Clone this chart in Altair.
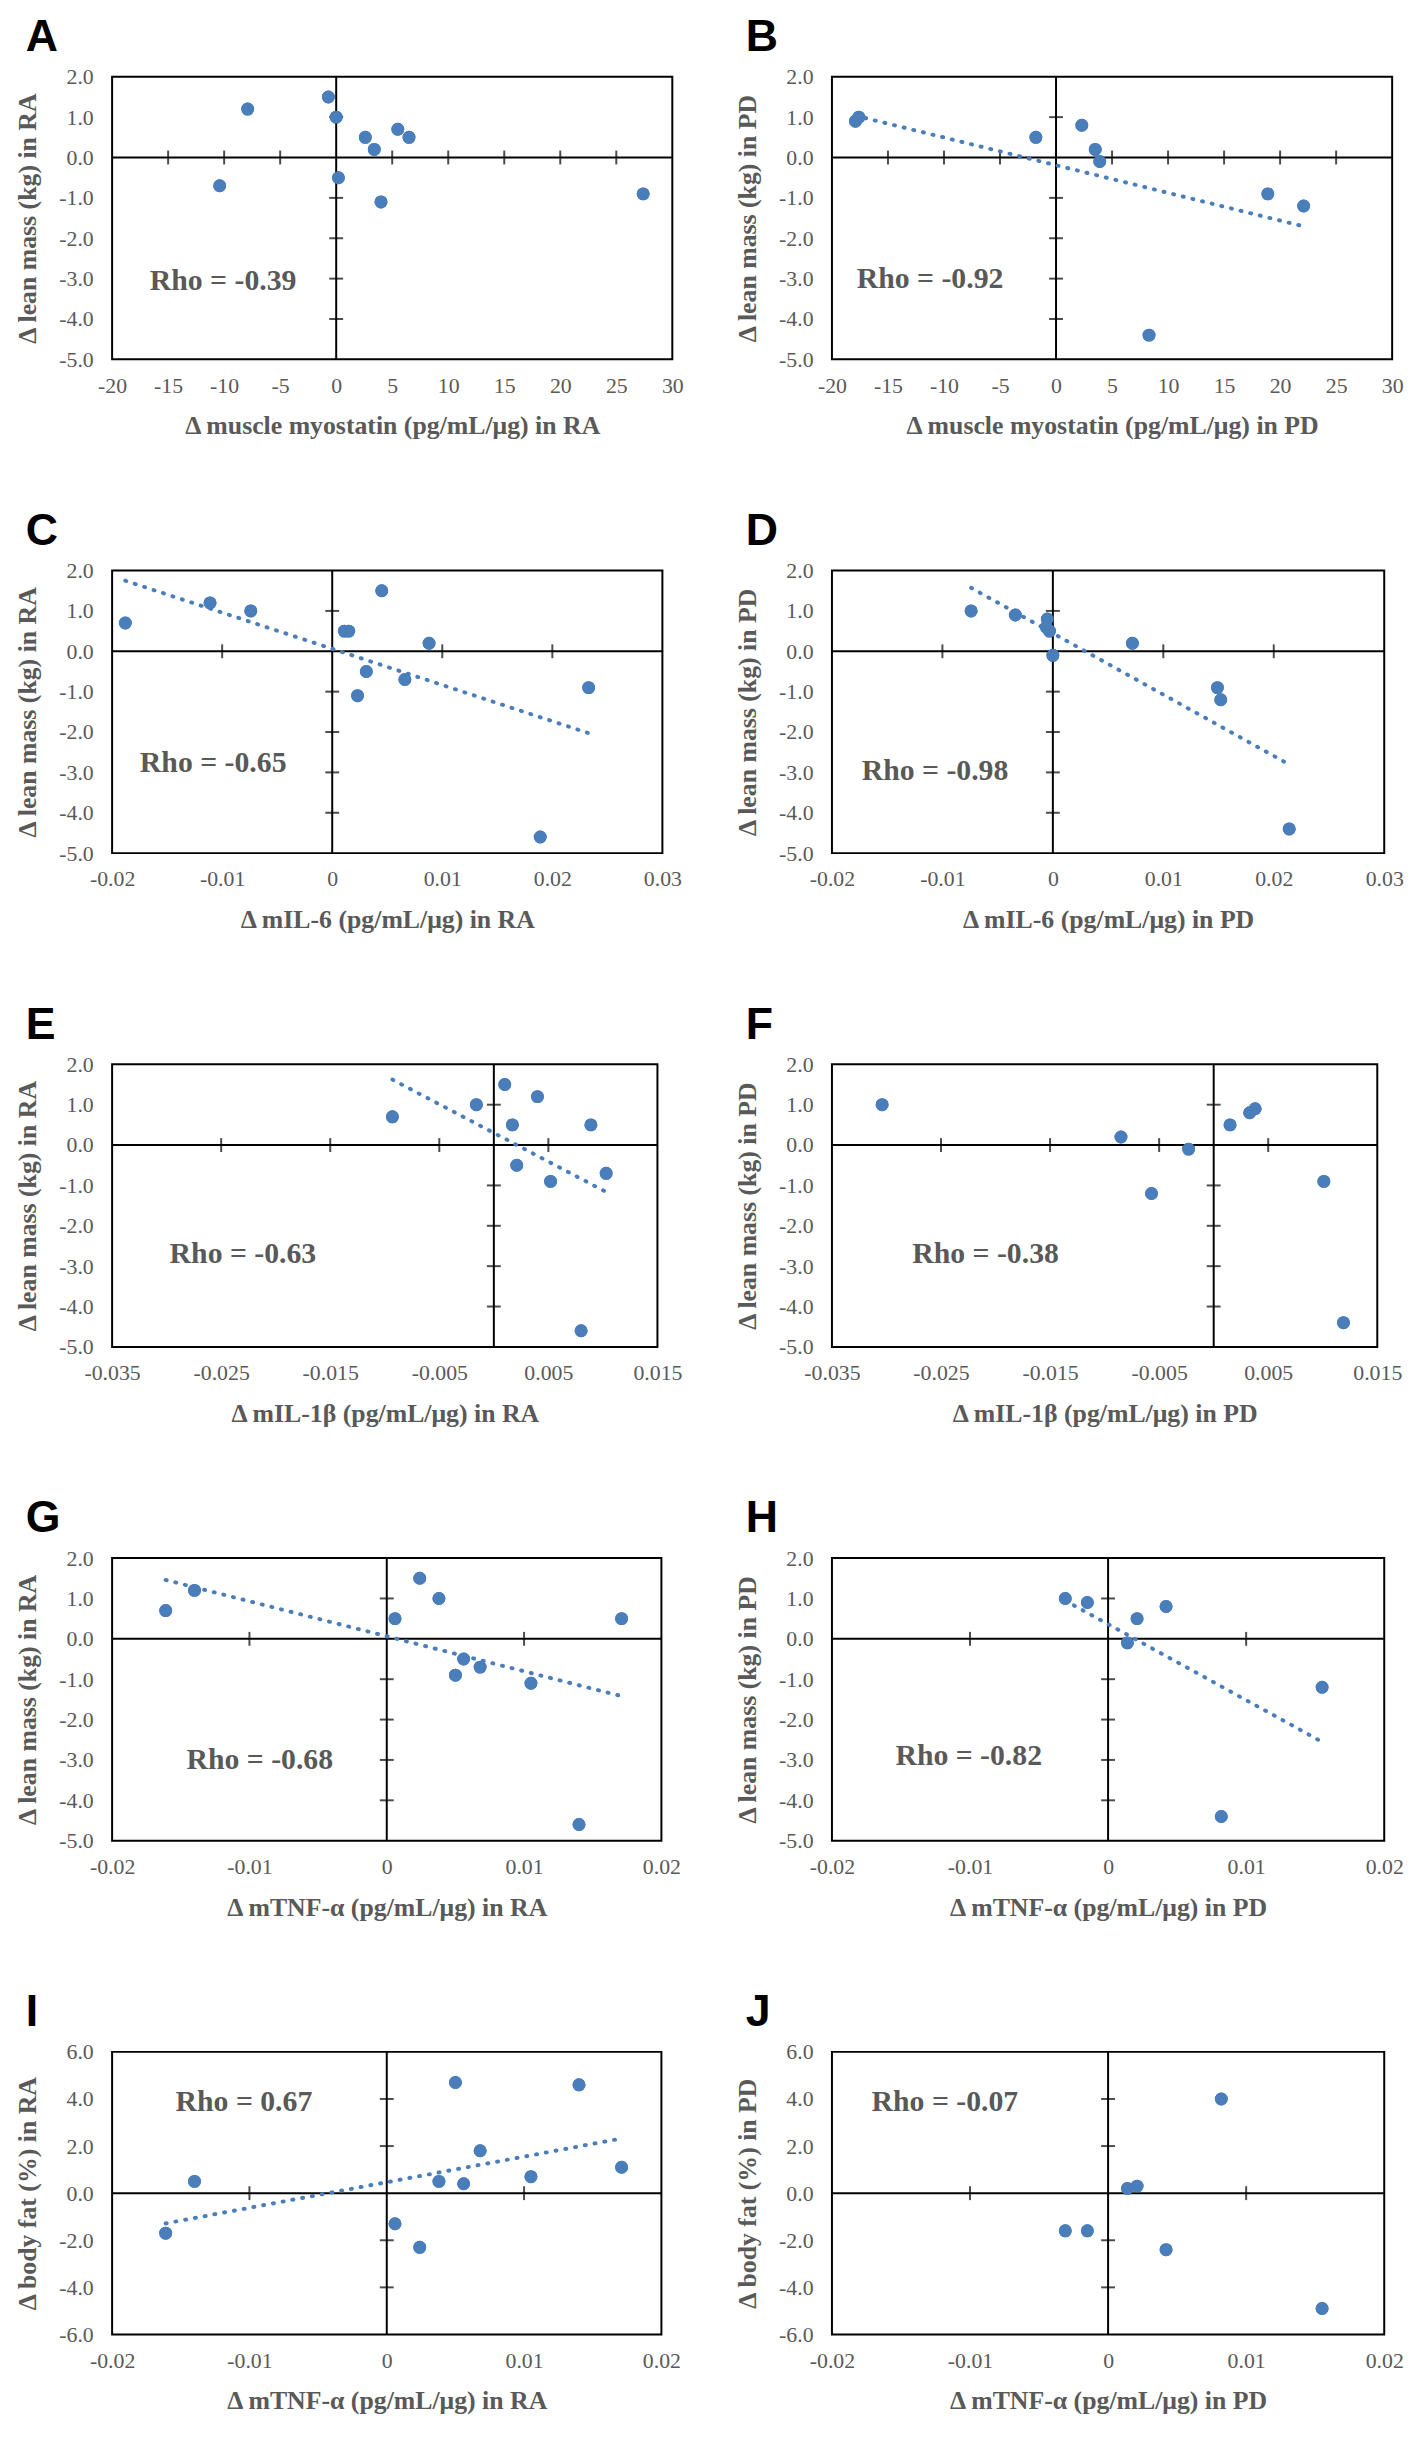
import altair as alt
import pandas as pd

BLUE = "#4a7ebb"
GRAY = "#595959"
SERIF = "Liberation Serif"

# ---------------- data ----------------
ticks_myostatin = [-20, -15, -10, -5, 0, 5, 10, 15, 20, 25, 30]
ticks_il6 = [-0.02, -0.01, 0, 0.01, 0.02, 0.03]
ticks_il1b = [-0.035, -0.025, -0.015, -0.005, 0.005, 0.015]
ticks_tnf = [-0.02, -0.01, 0, 0.01, 0.02]
ticks_lean = [-5, -4, -3, -2, -1, 0, 1, 2]
ticks_fat = [-6, -4, -2, 0, 2, 4, 6]

a_x = [-0.7, -7.9, 0.0, 2.6, 3.4, 5.5, 6.5, -10.4, 0.2, 4.0, 27.4]
a_y = [1.5, 1.2, 1.0, 0.5, 0.2, 0.7, 0.5, -0.7, -0.5, -1.1, -0.9]

b_x = [-17.9, -17.6, -1.8, 2.3, 3.5, 3.9, 18.9, 22.1, 8.3]
b_y = [0.9, 1.0, 0.5, 0.8, 0.2, -0.1, -0.9, -1.2, -4.4]

c_x = [-0.0188, -0.0111, -0.0074, 0.0045, 0.0011, 0.0015, 0.0088, 0.0031, 0.0066, 0.0023, 0.0233, 0.0189]
c_y = [0.7, 1.2, 1.0, 1.5, 0.5, 0.5, 0.2, -0.5, -0.7, -1.1, -0.9, -4.6]

d_x = [-0.0074, -0.0034, -0.0005, -0.0006, -0.0003, 0.0000, 0.0072, 0.0149, 0.0152, 0.0214]
d_y = [1.0, 0.9, 0.8, 0.6, 0.5, -0.1, 0.2, -0.9, -1.2, -4.4]

e_x = [-0.0093, -0.0016, 0.0010, 0.0040, 0.0017, 0.0089, 0.0021, 0.0052, 0.0103, 0.0080]
e_y = [0.7, 1.0, 1.5, 1.2, 0.5, 0.5, -0.5, -0.9, -0.7, -4.6]

f_x = [-0.0304, -0.0085, -0.0057, -0.0023, 0.0015, 0.0033, 0.0038, 0.0101, 0.0119]
f_y = [1.0, 0.2, -1.2, -0.1, 0.5, 0.8, 0.9, -0.9, -4.4]

g_x = [-0.0161, -0.0140, 0.0024, 0.0038, 0.0006, 0.0171, 0.0056, 0.0068, 0.0050, 0.0105, 0.0140]
g_y = [0.7, 1.2, 1.5, 1.0, 0.5, 0.5, -0.5, -0.7, -0.9, -1.1, -4.6]

h_x = [-0.0031, -0.0015, 0.0021, 0.0042, 0.0014, 0.0155, 0.0082]
h_y = [1.0, 0.9, 0.5, 0.8, -0.1, -1.2, -4.4]

i_x = [-0.0161, -0.0140, 0.0024, 0.0038, 0.0006, 0.0171, 0.0056, 0.0068, 0.0050, 0.0105, 0.0140]
i_y = [-1.7, 0.5, -2.3, 0.5, -1.3, 1.1, 0.4, 1.8, 4.7, 0.7, 4.6]

j_x = [-0.0031, -0.0015, 0.0021, 0.0042, 0.0014, 0.0155, 0.0082]
j_y = [-1.6, -1.6, 0.3, -2.4, 0.2, -4.9, 4.0]

letters = ["A", "B", "C", "D", "E", "F", "G", "H", "I", "J"]
rho_texts = ["Rho = -0.39", "Rho = -0.92", "Rho = -0.65", "Rho = -0.98", "Rho = -0.63",
             "Rho = -0.38", "Rho = -0.68", "Rho = -0.82", "Rho = 0.67", "Rho = -0.07"]
x_titles = [
    "Δ muscle myostatin (pg/mL/μg) in RA", "Δ muscle myostatin (pg/mL/μg) in PD",
    "Δ mIL-6 (pg/mL/μg) in RA", "Δ mIL-6 (pg/mL/μg) in PD",
    "Δ mIL-1β (pg/mL/μg) in RA", "Δ mIL-1β (pg/mL/μg) in PD",
    "Δ mTNF-α (pg/mL/μg) in RA", "Δ mTNF-α (pg/mL/μg) in PD",
    "Δ mTNF-α (pg/mL/μg) in RA", "Δ mTNF-α (pg/mL/μg) in PD",
]
y_titles = [
    "Δ lean mass (kg) in RA", "Δ lean mass (kg) in PD",
    "Δ lean mass (kg) in RA", "Δ lean mass (kg) in PD",
    "Δ lean mass (kg) in RA", "Δ lean mass (kg) in PD",
    "Δ lean mass (kg) in RA", "Δ lean mass (kg) in PD",
    "Δ body fat (%) in RA", "Δ body fat (%) in PD",
]
has_trend = [False, True, True, True, True, False, True, True, True, False]

series_x = [a_x, b_x, c_x, d_x, e_x, f_x, g_x, h_x, i_x, j_x]
series_y = [a_y, b_y, c_y, d_y, e_y, f_y, g_y, h_y, i_y, j_y]
x_ticks = [ticks_myostatin, ticks_myostatin, ticks_il6, ticks_il6, ticks_il1b, ticks_il1b,
           ticks_tnf, ticks_tnf, ticks_tnf, ticks_tnf]
y_ticks = [ticks_lean] * 8 + [ticks_fat] * 2

# ---------------- layout (pixels) ----------------
H = 285
widths = [565, 565, 555, 557, 550, 550, 554, 557, 554, 557]
rho_pos = [(38, 206), (25, 204), (28, 194), (30, 202), (58, 191),
           (81, 191), (75, 204), (64, 200), (64, 51), (40, 51)]


def panel(k):
    xs, ys = series_x[k], series_y[k]
    xt, yt = x_ticks[k], y_ticks[k]
    W = widths[k]
    df = pd.DataFrame({"x": xs, "y": ys})
    xscale = alt.Scale(domain=[xt[0], xt[-1]], nice=False, zero=False)
    yscale = alt.Scale(domain=[yt[0], yt[-1]], nice=False, zero=False)

    xaxis = alt.Axis(values=xt, title=x_titles[k], grid=False, domain=False, ticks=False,
                     tickSize=0, labelExpr="toString(datum.value)", labelFlush=False,
                     labelOverlap=False, labelPadding=16, titlePadding=17)
    yaxis = alt.Axis(values=yt, title=y_titles[k], grid=False, domain=False, ticks=False,
                     tickSize=0,
                     labelExpr="(datum.value < 0 ? '-' : '') + format(abs(datum.value), '.1f')",
                     labelFlush=False, labelOverlap=False, labelPadding=19, titlePadding=18)

    def X(f):
        return alt.X(f, scale=xscale, axis=xaxis)

    def Y(f):
        return alt.Y(f, scale=yscale, axis=yaxis)

    points = alt.Chart(df).mark_circle(size=170, color=BLUE, opacity=1).encode(
        x=X("x:Q"), y=Y("y:Q"))

    zero = pd.DataFrame({"z": [0]})
    hline = alt.Chart(zero).mark_rule(color="black", strokeWidth=2).encode(y=Y("z:Q"))
    vline = alt.Chart(zero).mark_rule(color="black", strokeWidth=2).encode(x=X("z:Q"))

    xtk = pd.DataFrame({"t": [v for v in xt if v not in (0, xt[0], xt[-1])]})
    xtk["z"] = 0
    ytk = pd.DataFrame({"t": [v for v in yt if v not in (0, yt[0], yt[-1])]})
    ytk["z"] = 0
    xmarks = alt.Chart(xtk).mark_tick(orient="vertical", size=14, thickness=2, color="black").encode(
        x=X("t:Q"), y=Y("z:Q"))
    ymarks = alt.Chart(ytk).mark_tick(orient="horizontal", size=14, thickness=2, color="black").encode(
        x=X("z:Q"), y=Y("t:Q"))

    layers = [points, hline, vline, xmarks, ymarks, points]

    if has_trend[k]:
        trend = alt.Chart(df).transform_regression("x", "y").mark_line(
            color=BLUE, strokeWidth=4, strokeDash=[1, 9], strokeCap="round").encode(
            x=X("x:Q"), y=Y("y:Q"))
        layers.append(trend)

    one = pd.DataFrame({"o": [1]})
    rx, ry = rho_pos[k]
    rho = alt.Chart(one).mark_text(
        text=rho_texts[k], align="left", baseline="middle", font=SERIF, fontSize=30,
        fontWeight="bold", color=GRAY).encode(x=alt.value(rx), y=alt.value(ry))
    letter = alt.Chart(one).mark_text(
        text=letters[k], align="left", baseline="alphabetic", font="Liberation Sans",
        fontSize=45, fontWeight="bold", color="black").encode(x=alt.value(-87), y=alt.value(-26))
    layers += [rho, letter]

    return alt.layer(*layers).properties(width=W, height=H)


chart = alt.concat(
    *[panel(k) for k in range(10)],
    columns=2,
    spacing={"row": 213, "column": 161},
    bounds="flush",
).properties(
    padding={"left": 6, "top": -4, "right": 5, "bottom": 5}
).configure_view(
    stroke="black", strokeWidth=2
).configure_axis(
    labelFont=SERIF, labelFontSize=22, labelColor=GRAY,
    titleFont=SERIF, titleFontSize=26, titleFontWeight="bold", titleColor=GRAY,
)

chart.save("out.html", embed_options={"renderer": "svg", "actions": False})
